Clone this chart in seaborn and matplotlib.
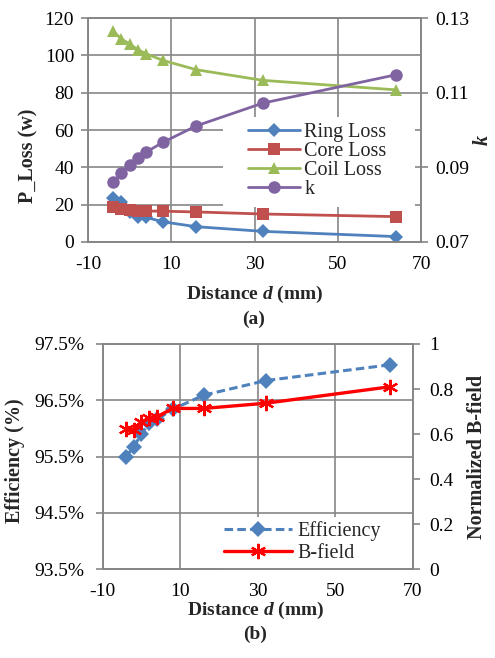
import matplotlib
matplotlib.use("Agg")
import matplotlib.pyplot as plt
from matplotlib.patches import Rectangle
import seaborn as sns

# ---------------- data ----------------
distance = [-4, -2, 0, 2, 4, 8, 16, 32, 64]
ring_loss = [23.5, 21.5, 16.3, 13.3, 13.2, 10.8, 8.2, 5.7, 2.9]
core_loss = [18.6, 17.8, 17.1, 16.8, 16.6, 16.5, 16.1, 15.0, 13.6]
coil_loss = [113.0, 108.8, 106.0, 103.0, 100.8, 97.3, 92.3, 86.6, 81.5]
k_factor = [0.0861, 0.0884, 0.0905, 0.0925, 0.0941, 0.0967, 0.1011, 0.1072, 0.1148]
efficiency = [95.50, 95.67, 95.91, 96.09, 96.16, 96.34, 96.59, 96.85, 97.13]
b_field = [0.621, 0.618, 0.655, 0.670, 0.677, 0.714, 0.714, 0.737, 0.810]

x_ticks = [-10, 10, 30, 50, 70]
loss_ticks = [0, 20, 40, 60, 80, 100, 120]
k_ticks = [0.07, 0.09, 0.11, 0.13]
k_tick_labels = ["0.07", "0.09", "0.11", "0.13"]
eff_ticks = [93.5, 94.5, 95.5, 96.5, 97.5]
eff_tick_labels = ["93.5%", "94.5%", "95.5%", "96.5%", "97.5%"]
b_ticks = [0, 0.2, 0.4, 0.6, 0.8, 1.0]
b_tick_labels = ["0", "0.2", "0.4", "0.6", "0.8", "1"]

# ---------------- style ----------------
sns.set_style("white")
plt.rcParams['font.family'] = ['Liberation Serif', 'DejaVu Serif']
plt.rcParams['mathtext.fontset'] = 'custom'
plt.rcParams['mathtext.rm'] = 'Liberation Serif'
plt.rcParams['mathtext.it'] = 'Liberation Serif:italic'
plt.rcParams['mathtext.bf'] = 'Liberation Serif:bold'
plt.rcParams['mathtext.bfit'] = 'Liberation Serif:italic:bold'

GRID = "#868686"
TICK_FS = 14
LAB_FS = 14.5
XLAB_FS = 14

C_RING = "#4F81BD"
C_CORE = "#C0504D"
C_COIL = "#9BBB59"
C_K = "#8064A2"
C_EFF = "#4F81BD"
C_B = "#FF0000"

W, H = 495, 658
fig = plt.figure(figsize=(W / 100, H / 100), dpi=100)


def fx(px):
    return px / W


def fy(py):
    return 1 - py / H


def style_axes(ax):
    for s in ax.spines.values():
        s.set_color(GRID)
        s.set_linewidth(1.2)
    ax.tick_params(axis='both', which='both', direction='out', length=5,
                   width=1.2, color=GRID, labelsize=TICK_FS, labelcolor='black')


# ---------------- top chart ----------------
ax1 = fig.add_axes([fx(88), fy(242), fx(421 - 88), (242 - 18) / H])
ax1b = ax1.twinx()

line_kw = dict(linewidth=2.0, markeredgewidth=0)
sns.lineplot(x=distance, y=ring_loss, ax=ax1, color=C_RING, marker='D',
             markersize=7.5, markeredgecolor=C_RING, label="Ring Loss", **line_kw)
sns.lineplot(x=distance, y=core_loss, ax=ax1, color=C_CORE, marker='s',
             markersize=8, markeredgecolor=C_CORE, label="Core Loss", **line_kw)
sns.lineplot(x=distance, y=coil_loss, ax=ax1, color=C_COIL, marker='^',
             markersize=9, markeredgecolor=C_COIL, label="Coil Loss", **line_kw)
sns.lineplot(x=distance, y=k_factor, ax=ax1b, color=C_K, marker='o',
             markersize=9, markeredgecolor=C_K, label="k", **line_kw)

ax1.set_xlim(-10, 70)
ax1.set_ylim(0, 120)
ax1b.set_ylim(0.07, 0.13)
ax1.set_xticks(x_ticks)
ax1.set_xticklabels([str(v) for v in x_ticks])
ax1.set_yticks(loss_ticks)
ax1.set_yticklabels([str(v) for v in loss_ticks])
ax1b.set_yticks(k_ticks)
ax1b.set_yticklabels(k_tick_labels)
ax1.grid(True, color=GRID, linewidth=1.2)
ax1.set_axisbelow(True)
for a in (ax1, ax1b):
    style_axes(a)
ax1.set_xlabel("")
ax1.set_ylabel("")
ax1b.set_ylabel("")
ax1.tick_params(axis='y', pad=5)
ax1.tick_params(axis='x', pad=5)
ax1b.tick_params(axis='y', pad=5)

# white legend background covering the grid
ax1.add_patch(Rectangle((fx(223), fy(207)), fx(415 - 223), (207 - 117) / H,
                        transform=fig.transFigure, facecolor='white',
                        edgecolor='none', zorder=1.5))

h1, l1 = ax1.get_legend_handles_labels()
h2, l2 = ax1b.get_legend_handles_labels()
if ax1.get_legend():
    ax1.get_legend().remove()
if ax1b.get_legend():
    ax1b.get_legend().remove()
leg1 = ax1b.legend(h1 + h2, l1 + l2, loc='upper left',
                   bbox_to_anchor=(fx(248), fy(123)), bbox_transform=fig.transFigure,
                   frameon=False, fontsize=LAB_FS, handlelength=2.6,
                   handletextpad=0.2, labelspacing=0.0, borderpad=0,
                   borderaxespad=0)

fig.text(fx(28), fy(156), "P_Loss (w)", rotation=90, ha='center', va='center',
         fontsize=LAB_FS, fontweight='bold')
fig.text(fx(483), fy(140), "k", rotation=90, ha='center', va='center',
         fontsize=LAB_FS, fontweight='bold', fontstyle='italic')
fig.text(fx(255), fy(294), r"Distance $\mathbfit{d}$ (mm)", ha='center', va='center',
         fontsize=XLAB_FS, fontweight='bold')
fig.text(fx(254), fy(319), "(a)", ha='center', va='center',
         fontsize=XLAB_FS, fontweight='bold')

# ---------------- bottom chart ----------------
ax2 = fig.add_axes([fx(102.7), fy(569.3), fx(413 - 102.7), (569.3 - 344) / H])
ax2b = ax2.twinx()

sns.lineplot(x=distance, y=efficiency, ax=ax2, color=C_EFF, marker='D',
             markersize=8, markeredgecolor=C_EFF, markeredgewidth=0,
             linewidth=2.2, dashes=False, linestyle=(0, (2.8, 1.4)),
             label="Efficiency")
sns.lineplot(x=distance, y=b_field, ax=ax2b, color=C_B, marker=(6, 2, 0),
             markersize=11, markeredgecolor=C_B, markeredgewidth=1.6,
             linewidth=2.4, label="B-field")

ax2.set_xlim(-10, 70)
ax2.set_ylim(93.5, 97.5)
ax2b.set_ylim(0, 1)
ax2.set_xticks(x_ticks)
ax2.set_xticklabels([str(v) for v in x_ticks])
ax2.set_yticks(eff_ticks)
ax2.set_yticklabels(eff_tick_labels)
ax2b.set_yticks(b_ticks)
ax2b.set_yticklabels(b_tick_labels)
ax2.grid(True, color=GRID, linewidth=1.2)
ax2.set_axisbelow(True)
for a in (ax2, ax2b):
    style_axes(a)
ax2.set_xlabel("")
ax2.set_ylabel("")
ax2b.set_ylabel("")
ax2.tick_params(axis='y', pad=8)
ax2.tick_params(axis='x', pad=5)
ax2b.tick_params(axis='y', pad=7)

ax2.add_patch(Rectangle((fx(218), fy(569)), fx(411 - 218), (569 - 517) / H,
                        transform=fig.transFigure, facecolor='white',
                        edgecolor='none', zorder=1.5))

h1, l1 = ax2.get_legend_handles_labels()
h2, l2 = ax2b.get_legend_handles_labels()
if ax2.get_legend():
    ax2.get_legend().remove()
if ax2b.get_legend():
    ax2b.get_legend().remove()
leg2 = ax2b.legend(h1 + h2, l1 + l2, loc='upper left',
                   bbox_to_anchor=(fx(224), fy(521)), bbox_transform=fig.transFigure,
                   frameon=False, fontsize=LAB_FS, handlelength=3.4,
                   handletextpad=0.25, labelspacing=0.13, borderpad=0,
                   borderaxespad=0)

fig.text(fx(15), fy(461), "Efficiency (%)", rotation=90, ha='center', va='center',
         fontsize=LAB_FS, fontweight='bold')
fig.text(fx(477), fy(457), "Normalized B-field", rotation=90, ha='center', va='center',
         fontsize=LAB_FS, fontweight='bold')
fig.text(fx(256), fy(610.5), r"Distance $\mathbfit{d}$ (mm)", ha='center', va='center',
         fontsize=XLAB_FS, fontweight='bold')
fig.text(fx(255), fy(634.5), "(b)", ha='center', va='center',
         fontsize=XLAB_FS, fontweight='bold')

fig.savefig("out.png", dpi=100)
